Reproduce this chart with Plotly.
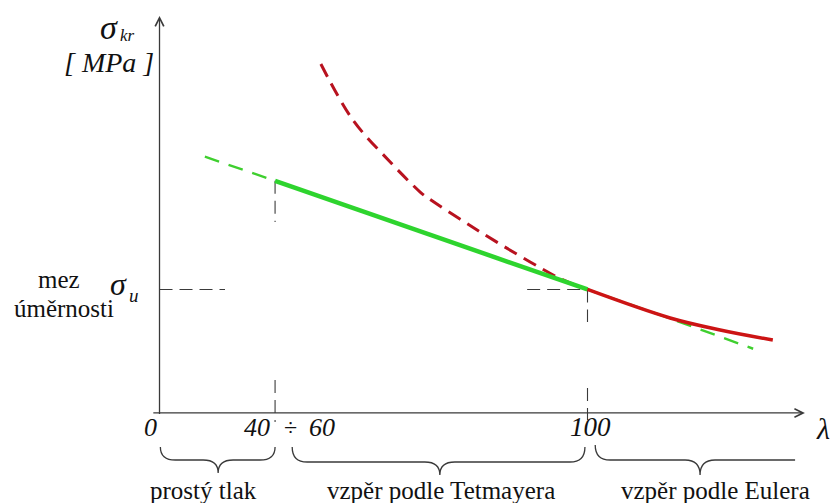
import plotly.graph_objects as go

# ---------------- data (schematic units: lambda, sigma; sigma_u = 100) ----------------
lam_tet = [27, 100]                      # Tetmajer validity (solid green)
sig_tet = [188, 100]
lam_tet_ext = [10.6, 27, 100, 119.3, 138.7]   # green dashed extension
sig_tet_ext = [207.5, 188, 100, 76.5, 52.0]
lam_eul_dash = [37.7, 45.2, 53.9, 60.9, 62.7, 74.2, 86.6, 94.3, 100]
sig_eul_dash = [282.6, 237.2, 203.2, 178.9, 174.1, 148.2, 122.3, 107.7, 100]
lam_eul = [100, 119.3, 131.0, 143.3]
sig_eul = [100, 76.9, 67.2, 59.1]
lam_limit = 27       # 40÷60 boundary
lam_prop = 100       # Euler boundary
sig_u = 100
tick_labels = ["0", "40", "÷", "60", "100"]
region_labels = ["prostý tlak", "vzpěr podle Tetmayera", "vzpěr podle Eulera"]

X_RANGE = [-37.27, 157.36]
Y_RANGE = [-72.9, 334.4]
SERIF = "Liberation Serif"
AX = "#3a3a3a"

fig = go.Figure()

# guide dashed lines (partial, as in the drawing)
guide = dict(color=AX, width=1.1, dash="13px,7px")
segments = [
    ([0, 15.3], [sig_u, sig_u]),
    ([85.9, lam_prop], [sig_u, sig_u]),
    ([lam_limit, lam_limit], [sig_tet[0], 154.7]),
    ([lam_limit, lam_limit], [26.7, -7.3]),
    ([lam_prop, lam_prop], [sig_u, 73.7]),
    ([lam_prop, lam_prop], [20.2, -5.7]),
]
for xs, ys in segments:
    fig.add_trace(go.Scatter(x=xs, y=ys, mode="lines", line=guide, hoverinfo="skip"))

# curves
fig.add_trace(go.Scatter(x=lam_tet_ext, y=sig_tet_ext, mode="lines",
                         line=dict(color="#3fcf2f", width=2.4, dash="15px,10px"), hoverinfo="skip"))
fig.add_trace(go.Scatter(x=lam_eul_dash, y=sig_eul_dash, mode="lines",
                         line=dict(color="#b8121f", width=3, dash="14px,8px", shape="spline"), hoverinfo="skip"))
fig.add_trace(go.Scatter(x=lam_tet, y=sig_tet, mode="lines",
                         line=dict(color="#2ed42e", width=4.5), hoverinfo="skip"))
fig.add_trace(go.Scatter(x=lam_eul, y=sig_eul, mode="lines",
                         line=dict(color="#cc1414", width=3.5, shape="spline"), hoverinfo="skip"))

# axes with arrows
fig.add_annotation(x=150.8, y=0, ax=-1.8, ay=0, xref="x", yref="y", axref="x", ayref="y",
                   text="", showarrow=True, arrowhead=5, arrowsize=1.3, arrowwidth=1.3,
                   arrowcolor=AX, standoff=0, startstandoff=0)
fig.add_annotation(x=0, y=321.5, ax=0, ay=-2, xref="x", yref="y", axref="x", ayref="y",
                   text="", showarrow=True, arrowhead=5, arrowsize=1.3, arrowwidth=1.3,
                   arrowcolor=AX, standoff=0, startstandoff=0)

# braces
def brace(x0, x1, xm, ytop, yh, ytip, r=3.5, right_curl=True):
    p = f"M {x0},{ytop} Q {x0},{yh} {x0 + r},{yh} L {xm - r},{yh} Q {xm},{yh} {xm},{ytip} "
    p += f"Q {xm},{yh} {xm + r},{yh} "
    if right_curl:
        p += f"L {x1 - r},{yh} Q {x1},{yh} {x1},{ytop}"
    else:
        p += f"L {x1},{yh}"
    return p

for args in [(0.2, 27.0, 13.7, -27.5, -38.1, -48.6, 3.5, True),
             (31.0, 99.4, 65.5, -27.5, -39.7, -50.2, 3.5, True),
             (101.8, 148.5, 126.3, -25.9, -38.1, -50.2, 3.5, False)]:
    fig.add_shape(type="path", xref="x", yref="y", path=brace(*args),
                  line=dict(color=AX, width=1.3))

def txt(x, y, s, size, italic=False, color="#111"):
    if italic:
        s = f"<i>{s}</i>"
    fig.add_annotation(x=x, y=y, xref="x", yref="y", text=s, showarrow=False,
                       font=dict(family=SERIF, size=size, color=color),
                       xanchor="center", yanchor="middle")

# y axis title
txt(-11.8, 312.0, "σ", 34, italic=True)
txt(-7.4, 306.0, "kr", 17, italic=True)
txt(-11.8, 283.5, "[ MPa ]", 28, italic=True)
# sigma_u
txt(-9.6, 104.5, "σ", 32, italic=True)
txt(-5.9, 95.5, "u", 19, italic=True)
txt(-23.4, 108.0, "mez", 25)
txt(-22.4, 85.0, "úměrnosti", 25)
# tick labels
txt(-2.2, -11.5, tick_labels[0], 26, italic=True)
txt(22.8, -11.5, tick_labels[1], 26, italic=True)
txt(30.6, -11.5, tick_labels[2], 24)
txt(38.0, -11.5, tick_labels[3], 26, italic=True)
txt(lam_prop + 0.8, -11.5, tick_labels[4], 27, italic=True)
txt(155.0, -12.5, "λ", 30, italic=True)
# region labels
txt(10.2, -62.5, region_labels[0], 25)
txt(65.8, -62.5, region_labels[1], 25)
txt(130.0, -62.5, region_labels[2], 25)

fig.update_layout(
    width=833, height=503, margin=dict(l=0, r=0, t=0, b=0),
    paper_bgcolor="white", plot_bgcolor="white", showlegend=False,
    xaxis=dict(range=X_RANGE, visible=False, fixedrange=True),
    yaxis=dict(range=Y_RANGE, visible=False, fixedrange=True),
)

fig.write_html("out.html", config={"displayModeBar": False},
               post_script="document.body.style.margin='0';document.body.style.overflow='hidden';")
